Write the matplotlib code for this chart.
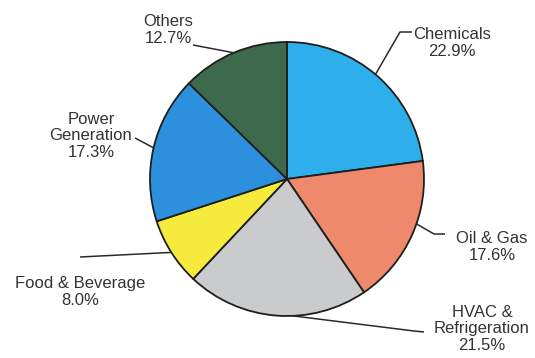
import numpy as np
import matplotlib
matplotlib.use("Agg")
import matplotlib.pyplot as plt

# market share by end-use industry
categories = ["Chemicals", "Oil & Gas", "HVAC &\nRefrigeration", "Food & Beverage", "Power\nGeneration", "Others"]
shares = [22.9, 17.6, 21.5, 8.0, 17.3, 12.7]
colors = ["#2eaeea", "#ee8a6b", "#c9cbcd", "#f6ea3c", "#2c90dd", "#3d6a4d"]

# label placement (figure pixels, y up) and where the leader line leaves the text
label_pos = [(452, 315), (492, 111), (482, 29), (80, 66), (91, 222), (168, 328)]
line_start = [[(412, 326), (400, 326)],
              [(445, 124), (434, 124)],
              [(424, 26), (414, 27)],
              [(80, 101)],
              [(135, 220)],
              [(193, 313)]]
# small shift (degrees) of where each leader touches the pie, off the slice middle
anchor_shift = [1, 5, 7, 0, 0, 0]

fig = plt.figure(figsize=(5.35, 3.58), dpi=100)
ax = fig.add_axes([0, 0, 1, 1])

cx, cy, r = 287, 179, 137
ax.pie(shares, colors=colors, startangle=90, counterclock=False,
       center=(cx, cy), radius=r,
       wedgeprops=dict(edgecolor="#1e1e1e", linewidth=1.3))

ax.set_xlim(0, 535)
ax.set_ylim(0, 358)
ax.set_aspect("equal")
ax.axis("off")

cum = np.cumsum([0] + shares[:-1])
for i, name in enumerate(categories):
    mid = np.deg2rad(90 - 360 * (cum[i] + shares[i] / 2) / 100 + anchor_shift[i])
    ax_x = cx + r * np.cos(mid)
    ax_y = cy + r * np.sin(mid)
    pts = line_start[i] + [(ax_x, ax_y)]
    xs = [p[0] for p in pts]
    ys = [p[1] for p in pts]
    ax.plot(xs, ys, color="#2a2a2a", lw=1.1, solid_capstyle="butt")
    ax.text(label_pos[i][0], label_pos[i][1], name + "\n" + f"{shares[i]:.1f}%",
            ha="center", va="center", fontsize=12, color="#333333",
            family="Liberation Sans", linespacing=1.15)

fig.savefig("out.png", dpi=100)
